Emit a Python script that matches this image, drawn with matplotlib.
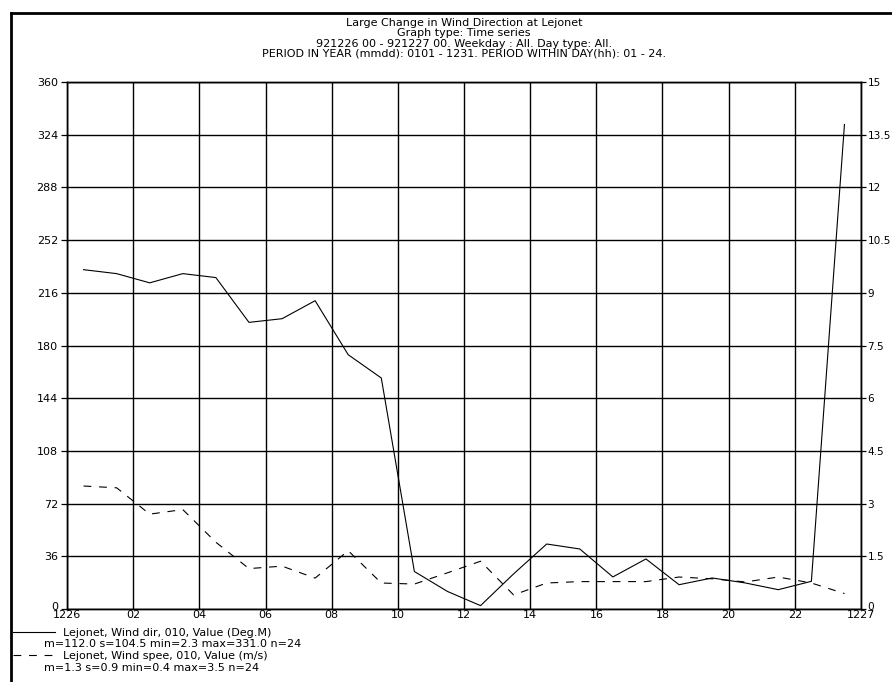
import numpy as np
import matplotlib
matplotlib.use('Agg')
import matplotlib.pyplot as plt
import matplotlib.transforms as mtransforms
from matplotlib.lines import Line2D

plt.rcParams['font.family'] = ['DejaVu Sans']

# hourly values, 921226 00 - 921227 00
hours = np.arange(24) + 0.5
wind_dir = [231.8, 229.1, 222.8, 229.1, 226.4, 195.8, 198.3, 210.6, 173.7, 157.8,
            25.6, 12.0, 2.3, 24.0, 44.4, 41.0, 21.9, 34.2, 16.6, 21.2,
            17.8, 13.2, 18.9, 331.0]
wind_speed = [3.5, 3.45, 2.7, 2.83, 1.9, 1.15, 1.22, 0.88, 1.66, 0.74,
              0.71, 1.03, 1.36, 0.4, 0.74, 0.78, 0.78, 0.78, 0.91, 0.86,
              0.77, 0.91, 0.74, 0.44]

x_ticks = np.arange(0, 25, 2)
x_labels = ['1226', '02', '04', '06', '08', '10', '12', '14', '16', '18', '20', '22', '1227']
left_ticks = np.arange(0, 361, 36)
right_ticks = np.arange(0, 15.1, 1.5)
right_labels = ['0', '1.5', '3', '4.5', '6', '7.5', '9', '10.5', '12', '13.5', '15']

title_lines = ['Large Change in Wind Direction at Lejonet',
               'Graph type: Time series',
               '921226 00 - 921227 00. Weekday : All. Day type: All.',
               'PERIOD IN YEAR (mmdd): 0101 - 1231. PERIOD WITHIN DAY(hh): 01 - 24.']
legend_lines = ['Lejonet, Wind dir, 010, Value (Deg.M)',
                'm=112.0 s=104.5 min=2.3 max=331.0 n=24',
                'Lejonet, Wind spee, 010, Value (m/s)',
                'm=1.3 s=0.9 min=0.4 max=3.5 n=24']

FS = 8
W, H = 892, 682
fig = plt.figure(figsize=(W / 100, H / 100), dpi=100)

def fx(px):
    return px / W

def fy(py):
    return 1 - py / H

ax = fig.add_axes([fx(67), fy(609), fx(861) - fx(67), fy(82) - fy(609)])
ax.plot(hours, wind_dir, color='black', lw=0.8)
ax.set_xlim(0, 24)
ax.set_ylim(0, 360)
ax.set_xticks(x_ticks)
ax.set_xticklabels(x_labels)
ax.set_yticks(left_ticks)
ax.grid(True, color='black', lw=1.0)
ax.tick_params(axis='x', length=0, pad=1, labelsize=FS)
ax.tick_params(axis='y', length=4.5, width=0.9, pad=2, labelsize=FS)
for s in ax.spines.values():
    s.set_linewidth(1.0)

ax2 = ax.twinx()
ax2.plot(hours, wind_speed, color='black', lw=0.8, dashes=(7, 7))
ax2.set_ylim(0, 15)
ax2.set_yticks(right_ticks)
ax2.set_yticklabels(right_labels)
ax2.tick_params(axis='y', length=3.6, width=0.9, pad=1, labelsize=7.6)
for s in ax2.spines.values():
    s.set_linewidth(1.0)

# the "0" labels sit a little above the bottom line, as in the original
lift = mtransforms.ScaledTranslation(0, 3 / 100, fig.dpi_scale_trans)
fig.canvas.draw()
for lab in (ax.get_yticklabels()[0], ax2.get_yticklabels()[0]):
    lab.set_transform(lab.get_transform() + lift)

# title block
for i, t in enumerate(title_lines):
    fig.text(fx(464), fy(23 + i * 10.3), t, ha='center', va='center', fontsize=FS)

# legend block
fig.add_artist(Line2D([fx(13), fx(55)], [fy(632), fy(632)], color='black', lw=0.8))
fig.add_artist(Line2D([fx(13), fx(55)], [fy(655), fy(655)], color='black', lw=0.8, dashes=(7, 7)))
fig.text(fx(63), fy(633), legend_lines[0], ha='left', va='center', fontsize=FS)
fig.text(fx(44), fy(644), legend_lines[1], ha='left', va='center', fontsize=FS)
fig.text(fx(63), fy(656), legend_lines[2], ha='left', va='center', fontsize=FS)
fig.text(fx(44), fy(668), legend_lines[3], ha='left', va='center', fontsize=FS)

# window frame (top and left edges)
fig.add_artist(Line2D([fx(11), fx(892)], [fy(13), fy(13)], color='black', lw=2))
fig.add_artist(Line2D([fx(11), fx(11)], [fy(13), fy(682)], color='black', lw=2))

fig.savefig('out.png', dpi=100)
